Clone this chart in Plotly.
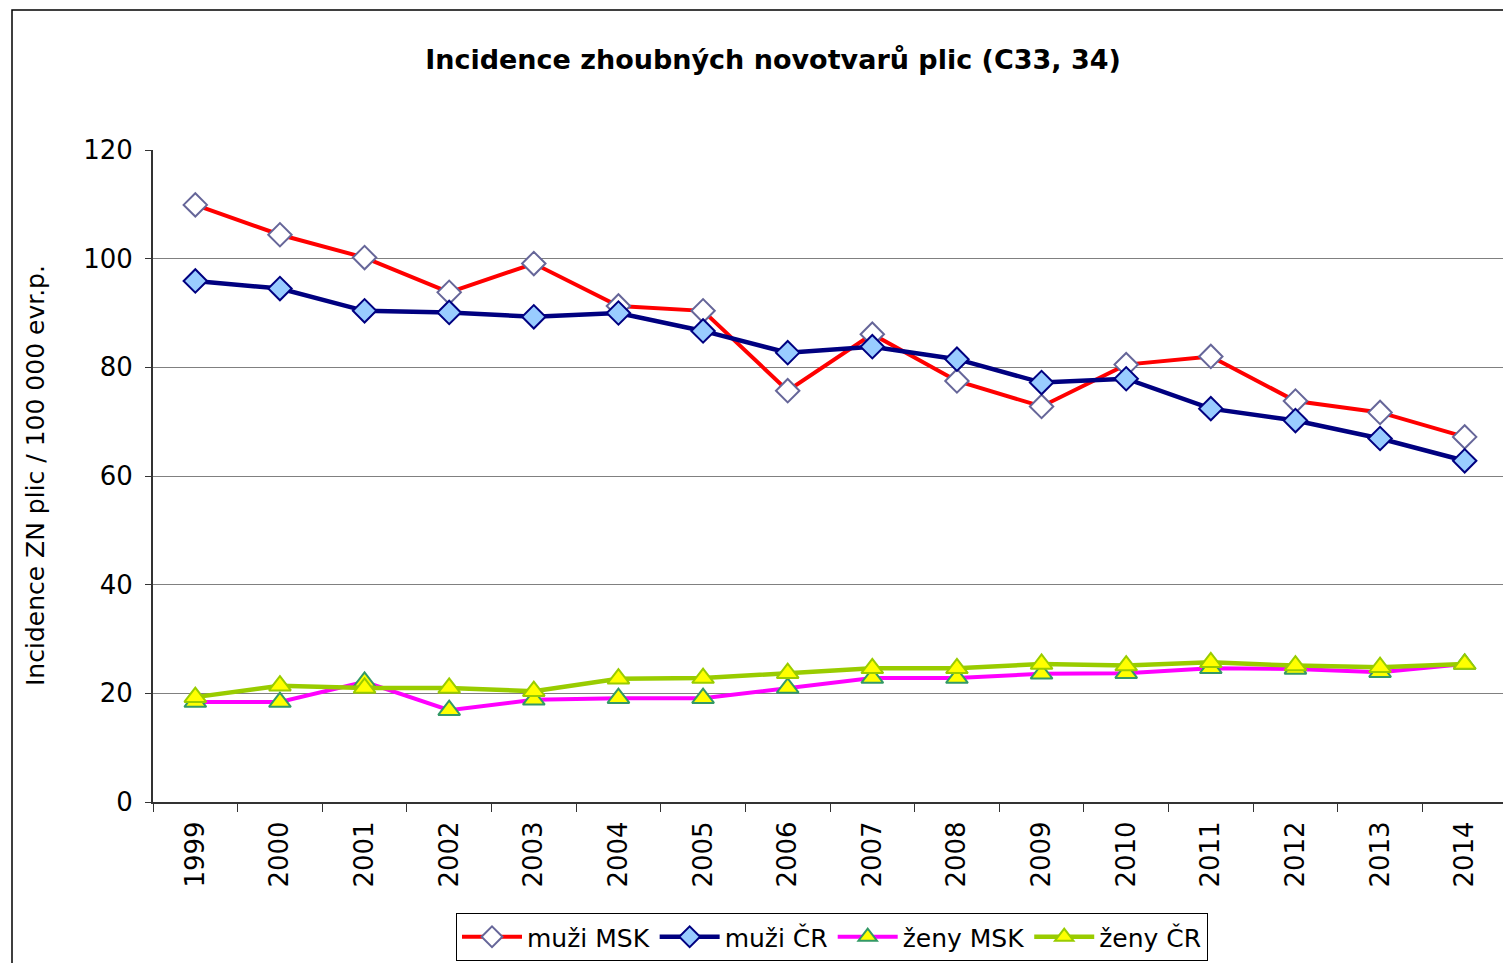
import plotly.graph_objects as go

years = [str(y) for y in range(1999, 2015)]
muzi_msk = [109.9, 104.4, 100.2, 93.8, 99.1, 91.3, 90.4, 75.7, 86.1, 77.5, 72.8, 80.5, 82.0, 73.8, 71.7, 67.2]
muzi_cr = [95.9, 94.5, 90.4, 90.1, 89.3, 90.0, 86.7, 82.7, 83.8, 81.5, 77.2, 77.9, 72.4, 70.2, 66.9, 62.8]
zeny_msk = [18.4, 18.4, 22.1, 16.9, 18.8, 19.1, 19.1, 21.0, 22.8, 22.8, 23.6, 23.7, 24.6, 24.5, 23.9, 25.4]
zeny_cr = [19.3, 21.4, 21.0, 21.0, 20.4, 22.7, 22.8, 23.7, 24.6, 24.6, 25.4, 25.1, 25.7, 25.1, 24.8, 25.4]

series = [
    ("muži MSK", muzi_msk, "#FF0000", 4, "diamond", "white", "#666699", 18),
    ("muži ČR", muzi_cr, "#000080", 4.5, "diamond", "#99CCFF", "#000080", 18),
    ("ženy MSK", zeny_msk, "#FF00FF", 4, "triangle-up", "#FFFF00", "#339966", 19),
    ("ženy ČR", zeny_cr, "#99CC00", 4.5, "triangle-up", "#FFFF00", "#99CC00", 19),
]

FONT = "DejaVu Sans, Liberation Sans, Arial, sans-serif"

fig = go.Figure()
for name, vals, lc, lw, sym, fill, mlc, ms in series:
    fig.add_trace(go.Scatter(
        x=years, y=vals, name=name, mode="lines+markers",
        line=dict(color=lc, width=lw),
        marker=dict(symbol=sym, size=ms, color=fill, line=dict(color=mlc, width=2)),
    ))

O = 8  # page body margin offset
W, H = 1511 - O, 963 - O
L, R, T, B = 153 - O, 1507 - O, 150 - O, 802 - O
pw, ph = R - L, B - T

def px(x):
    return (x - O - L) / pw

def py(y):
    return (B - (y - O)) / ph

fig.update_layout(
    width=W, height=H,
    margin=dict(l=L, r=W - R, t=T, b=H - B, autoexpand=False),
    paper_bgcolor="white", plot_bgcolor="white",
    font=dict(family=FONT, color="black"),
    title=dict(text="<b>Incidence zhoubných novotvarů plic (C33, 34)</b>",
               x=(773 - O) / W, xanchor="center", xref="container",
               y=1 - (60 - O) / H, yanchor="middle", yref="container",
               font=dict(size=27, family=FONT)),
    showlegend=True,
    legend=dict(orientation="h", x=px(456), y=py(913), xanchor="left", yanchor="top",
                bordercolor="black", borderwidth=1, bgcolor="white",
                font=dict(size=25, family=FONT), itemwidth=60, tracegroupgap=0),
    xaxis=dict(type="category", range=[-0.5, 15.5], showgrid=False,
               showline=True, linecolor="#333333", linewidth=2,
               ticks="outside", tickson="boundaries", ticklen=8, tickcolor="#333333",
               tickangle=-90, tickfont=dict(size=26, family=FONT), ticklabelstandoff=7),
    yaxis=dict(range=[0, 120], dtick=20, showgrid=True, gridcolor="#808080", gridwidth=1,
               showline=True, linecolor="#333333", linewidth=2,
               ticks="outside", ticklen=6, tickcolor="#333333",
               tickfont=dict(size=26, family=FONT), zeroline=False, ticklabelstandoff=7),
    shapes=[
        dict(type="rect", xref="paper", yref="paper", x0=px(12), x1=px(1530), y0=py(990), y1=py(10),
             line=dict(color="black", width=1.5), fillcolor="rgba(0,0,0,0)", layer="below"),
        dict(type="line", xref="paper", yref="paper", x0=1, x1=1, y0=0, y1=1,
             line=dict(color="#808080", width=2)),
    ],
    annotations=[
        dict(text="Incidence ZN plic / 100 000 evr.p.", xref="paper", yref="paper",
             x=px(35), y=py(476), textangle=-90, showarrow=False,
             font=dict(size=25, family=FONT), xanchor="center", yanchor="middle"),
    ],
)

fig.write_html("out.html")
